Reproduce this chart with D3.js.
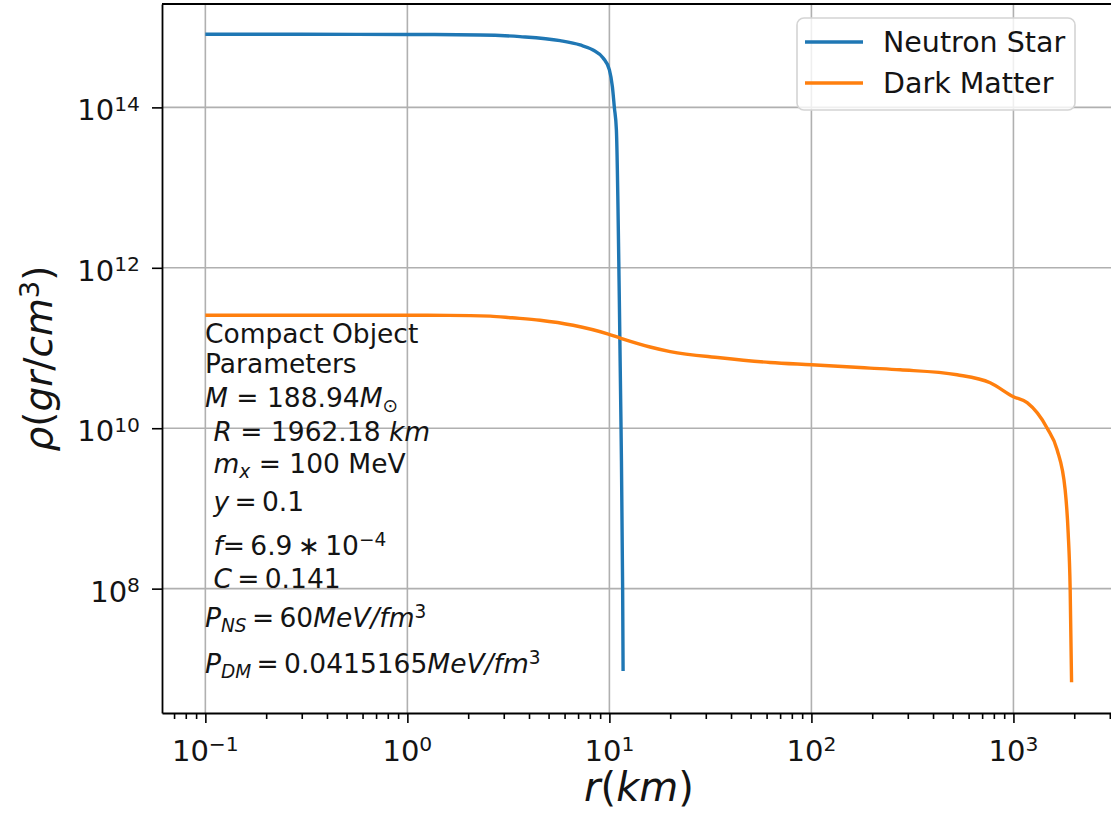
<!DOCTYPE html>
<html>
<head>
<meta charset="utf-8">
<script src="https://cdn.jsdelivr.net/npm/d3@7"></script>
<style>
  body { margin: 0; background: #fff; }
  svg { display: block; font-family: "DejaVu Sans", sans-serif; }
</style>
</head>
<body>
<svg id="chart" width="1111" height="816"></svg>
<script>
// Density profiles (r in km, rho in g/cm^3)
const radiusNS  = [0.1, 0.3, 1.0, 2.29, 3.61, 5.70, 7.16, 8.30, 9.31, 10.0, 10.35, 10.58, 10.83, 11.2, 11.42, 11.63, 11.69];
const densityNS = [8.17e14, 8.15e14, 8.12e14, 8.0e14, 7.62e14, 6.79e14, 6.0e14, 5.2e14, 4.13e14, 2.93e14, 1.80e14, 1.0e14, 5.25e13, 4.0e11, 1.0e10, 1.0e8, 9.4e6];

const radiusDM  = [0.1, 0.3, 1.0, 1.6, 2.57, 3.3, 4.54, 6.61, 9.79, 11.3, 15.9, 20.0, 35.3, 62.4, 100, 195, 275, 526, 767, 1000, 1169, 1469, 1645, 1803, 1866, 1909, 1940];
const densityDM = [2.56e11, 2.56e11, 2.56e11, 2.555e11, 2.5e11, 2.38e11, 2.22e11, 1.92e11, 1.5e11, 1.33e11, 1.03e11, 9.03e10, 7.55e10, 6.6e10, 6.18e10, 5.62e10, 5.35e10, 4.64e10, 3.69e10, 2.47e10, 2.08e10, 1.0e10, 5.4e9, 1.71e9, 5.0e8, 1.0e8, 6.8e6];

const seriesNames  = ["Neutron Star", "Dark Matter"];
const seriesColors = ["#1f77b4", "#ff7f0e"];

// Axis tick exponents
const xTickExps = [-1, 0, 1, 2, 3];
const yTickExps = [8, 10, 12, 14];

// Parameter block, one entry per line: segments of [text, style]
// style: "i" italic, "sub" subscript, "isub" italic subscript, "sup" superscript, "" upright
const paramLines = [
  [["Compact Object", ""]],
  [["Parameters", ""]],
  [["M", "i"], [" = 188.94", ""], ["M", "i"], ["\u2299", "sub"]],
  [[" ", ""], ["R", "i"], [" = 1962.18 ", ""], ["km", "i"]],
  [[" ", ""], ["m", "i"], ["x", "isub"], [" = 100 MeV", ""]],
  [[" ", ""], ["y", "i"], ["\u2009=\u20090.1", ""]],
  [[" ", ""], ["f", "i"], ["=\u20096.9\u2009\u2217\u200910", ""], ["\u22124", "sup"]],
  [[" ", ""], ["C", "i"], ["\u2009=\u20090.141", ""]],
  [["P", "i"], ["NS", "isub"], ["\u2009=\u200960", ""], ["MeV/fm", "i"], ["3", "sup"]],
  [["P", "i"], ["DM", "isub"], ["\u2009=\u20090.0415165", ""], ["MeV/fm", "i"], ["3", "sup"]]
];

const svg = d3.select("#chart");
const plot = { left: 162, top: 4, right: 1116, bottom: 713 };

const x = d3.scaleLog().domain([0.06101, 3219]).range([plot.left, plot.right]);
const y = d3.scaleLog().domain([2.816e6, 1.945e15]).range([plot.bottom, plot.top]);

const textColor = "#141414";

// Rich text helper: tspans with italic / sub / superscript runs
function richText(parent, px, py, segments, size, anchor) {
  const t = parent.append("text")
    .attr("x", px).attr("y", py)
    .attr("font-size", size)
    .attr("fill", textColor)
    .attr("text-anchor", anchor || "start");
  let offset = 0;
  segments.forEach(([s, style]) => {
    let target = 0, fs = size, italic = false;
    if (style === "i") italic = true;
    if (style === "sub" || style === "isub") { target = 0.2 * size; fs = 0.7 * size; italic = style === "isub"; }
    if (style === "sup") { target = -0.33 * size; fs = 0.7 * size; }
    t.append("tspan")
      .attr("dy", target - offset)
      .attr("font-size", fs)
      .attr("font-style", italic ? "italic" : "normal")
      .style("white-space", "pre")
      .text(s);
    offset = target;
  });
  return t;
}

// Grid
const grid = svg.append("g");
grid.selectAll(".gx").data(xTickExps).join("line")
  .attr("x1", d => x(Math.pow(10, d))).attr("x2", d => x(Math.pow(10, d)))
  .attr("y1", plot.top).attr("y2", plot.bottom)
  .attr("stroke", "#b0b0b0").attr("stroke-width", 1.6);
grid.selectAll(".gy").data(yTickExps).join("line")
  .attr("x1", plot.left).attr("x2", plot.right)
  .attr("y1", d => y(Math.pow(10, d))).attr("y2", d => y(Math.pow(10, d)))
  .attr("stroke", "#b0b0b0").attr("stroke-width", 1.6);

// Series
const line = d3.line().x(d => x(d[0])).y(d => y(d[1])).curve(d3.curveMonotoneX);
const series = [
  radiusNS.map((r, i) => [r, densityNS[i]]),
  radiusDM.map((r, i) => [r, densityDM[i]])
];
svg.append("defs").append("clipPath").attr("id", "plotClip")
  .append("rect").attr("x", plot.left).attr("y", plot.top)
  .attr("width", plot.right - plot.left).attr("height", plot.bottom - plot.top);
svg.append("g").attr("clip-path", "url(#plotClip)")
  .selectAll("path").data(series).join("path")
  .attr("d", line)
  .attr("fill", "none")
  .attr("stroke", (d, i) => seriesColors[i])
  .attr("stroke-width", 3.4)
  .attr("stroke-linejoin", "round")
  .attr("stroke-linecap", "butt");

// Axes
const xMinor = [];
for (let e = -2; e <= 3; e++) for (let k = 2; k <= 9; k++) {
  const v = k * Math.pow(10, e);
  if (v > x.domain()[0] && v < x.domain()[1]) xMinor.push(v);
}
svg.append("g").attr("transform", `translate(0,${plot.bottom})`)
  .call(d3.axisBottom(x).tickValues(xTickExps.map(e => Math.pow(10, e)))
    .tickSize(10).tickSizeOuter(0).tickFormat(""));
svg.append("g").attr("transform", `translate(0,${plot.bottom})`)
  .call(d3.axisBottom(x).tickValues(xMinor).tickSize(6).tickSizeOuter(0).tickFormat(""))
  .call(g => g.select(".domain").remove());
svg.append("g").attr("transform", `translate(${plot.left},0)`)
  .call(d3.axisLeft(y).tickValues(yTickExps.map(e => Math.pow(10, e)))
    .tickSize(10).tickSizeOuter(0).tickFormat(""));
svg.selectAll(".domain").attr("stroke", "#000").attr("stroke-width", 1.8);
svg.selectAll(".tick line").attr("stroke", "#000").attr("stroke-width", 1.6);

// Top and right spines
svg.append("line").attr("x1", plot.left).attr("x2", plot.right)
  .attr("y1", plot.top).attr("y2", plot.top).attr("stroke", "#000").attr("stroke-width", 1.8);
svg.append("line").attr("x1", plot.right).attr("x2", plot.right)
  .attr("y1", plot.top).attr("y2", plot.bottom).attr("stroke", "#000").attr("stroke-width", 1.8);

// Tick labels
const tickSize = 29;
xTickExps.forEach(e => {
  const lbl = e < 0 ? "\u2212" + Math.abs(e) : String(e);
  richText(svg, x(Math.pow(10, e)), plot.bottom + 48, [["10", ""], [lbl, "sup"]], tickSize, "middle");
});
yTickExps.forEach(e => {
  richText(svg, plot.left - 22, y(Math.pow(10, e)) + 13, [["10", ""], [String(e), "sup"]], tickSize, "end");
});

// Axis labels
richText(svg, (plot.left + plot.right) / 2, 801,
  [["r", "i"], ["(", ""], ["km", "i"], [")", ""]], 40, "middle");
const yl = svg.append("g").attr("transform", `translate(52,${(plot.top + plot.bottom) / 2}) rotate(-90)`);
richText(yl, 0, 0,
  [["\u03C1", "i"], ["(", ""], ["gr", "i"], ["/", ""], ["cm", "i"], ["3", "sup"], [")", ""]], 39, "middle");

// Parameter annotation
const paramY = [343, 373, 407, 441, 473, 511, 555, 588, 627, 673];
paramLines.forEach((segs, i) => richText(svg, 205, paramY[i], segs, 26.5, "start"));

// Legend
const lg = svg.append("g");
lg.append("rect").attr("x", 797).attr("y", 18).attr("width", 278).attr("height", 92)
  .attr("rx", 7).attr("fill", "#fff").attr("fill-opacity", 0.8)
  .attr("stroke", "#d4d4d4").attr("stroke-width", 1.6);
seriesNames.forEach((name, i) => {
  const cy = 42 + i * 41;
  lg.append("line").attr("x1", 805).attr("x2", 863).attr("y1", cy).attr("y2", cy)
    .attr("stroke", seriesColors[i]).attr("stroke-width", 3.4);
  lg.append("text").attr("x", 883).attr("y", cy + 10)
    .attr("font-size", 28.5).attr("fill", textColor).text(name);
});
</script>
</body>
</html>
